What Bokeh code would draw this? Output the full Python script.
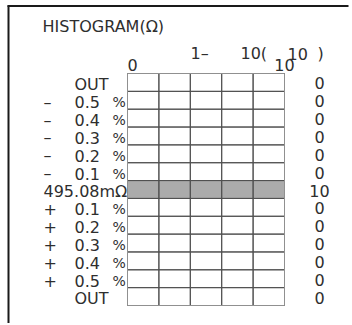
from bokeh.plotting import figure
from bokeh.models import Range1d
from bokeh.core.properties import value
from bokeh.embed import file_html
from bokeh.resources import INLINE

# ---- data ----
title = "HISTOGRAM(Ω)"
row_lead = ["", "–", "–", "–", "–", "–", "495.08mΩ", "+", "+", "+", "+", "+", ""]
row_value = ["OUT", "0.5", "0.4", "0.3", "0.2", "0.1", "", "0.1", "0.2", "0.3", "0.4", "0.5", "OUT"]
row_unit = ["", "%", "%", "%", "%", "%", "", "%", "%", "%", "%", "%", ""]
counts = [0, 0, 0, 0, 0, 0, 10, 0, 0, 0, 0, 0, 0]
col_edges = [0, 2, 4, 6, 8, 10]
scale_min_label = "0"
scale_max_label = "10"
header_parts = ["1–", "10(", "10", ")"]

# ---- layout (pixels inside the figure) ----
W, H = 350, 323
GX0, GX1 = 127, 284      # grid left/right
GY0, GY1 = 73, 305       # grid top/bottom
nrows = len(counts)
xmax = col_edges[-1]
sx = (GX1 - GX0) / xmax
sy = (GY1 - GY0) / nrows

def px(fx):
    return (fx - GX0) / sx

def py(fy):
    return (fy - GY0) / sy

p = figure(width=W, height=H, output_backend="svg", toolbar_location=None,
           x_range=Range1d(px(0), px(W)), y_range=Range1d(py(H), py(0)),
           min_border=0, min_border_left=0, min_border_right=0,
           min_border_top=0, min_border_bottom=0)
p.axis.visible = False
p.grid.visible = False
p.outline_line_color = None
p.background_fill_color = "white"
p.border_fill_color = "white"

FONT = value("DejaVu Sans")
FS = "16px"
TC = "#2e2e2e"

rows = list(range(nrows))

# frame lines (left and top)
p.segment(x0=[px(7), px(8)], y0=[py(5.5), py(5)], x1=[px(348), px(8)], y1=[py(5.5), py(H)],
          line_color="#1a1a1a", line_width=2)

# histogram bar
p.quad(left=[0] * nrows, right=counts, top=rows, bottom=[r + 1 for r in rows],
       fill_color="#ababab", line_color=None)

# grid cells
cl, cr, ct, cb = [], [], [], []
for r in rows:
    for i in range(len(col_edges) - 1):
        cl.append(col_edges[i]); cr.append(col_edges[i + 1])
        ct.append(r); cb.append(r + 1)
p.quad(left=cl, right=cr, top=ct, bottom=cb, fill_color=None,
       line_color="#505050", line_width=1)
# outer grid edge (lighter)
p.quad(left=[0], right=[xmax], top=[0], bottom=[nrows], fill_color=None,
       line_color="#909090", line_width=1)

ymid = [r + 0.5 + 2 / sy for r in rows]

p.text(x=[px(43)] * nrows, y=ymid, text=row_lead, text_font=FONT,
       text_font_size=FS, text_color=TC, text_baseline="middle", text_align="left")
p.text(x=[px(74)] * nrows, y=ymid, text=row_value, text_font=FONT,
       text_font_size=FS, text_color=TC, text_baseline="middle", text_align="left")
p.text(x=[px(112)] * nrows, y=ymid, text=row_unit, text_font=FONT,
       text_font_size="14px", text_color=TC, text_baseline="middle", text_align="left")

# counts on the right
p.text(x=[px(319)] * nrows, y=[r + 0.5 + 1 / sy for r in rows],
       text=[str(c) for c in counts], text_font=FONT, text_font_size=FS,
       text_color=TC, text_baseline="middle", text_align="center")

# title and scale header
p.text(x=[px(42)], y=[py(26)], text=[title], text_font=FONT, text_font_size=FS,
       text_color=TC, text_baseline="middle", text_align="left")
p.text(x=[0], y=[py(64)], text=[scale_min_label],
       text_font=FONT, text_font_size=FS, text_color=TC,
       text_baseline="middle", text_align="left")
p.text(x=[xmax], y=[py(64)], text=[scale_max_label],
       text_font=FONT, text_font_size=FS, text_color=TC,
       text_baseline="middle", text_align="center")
p.text(x=[px(190), px(240), px(287), px(317)], y=[py(53)] * 4, text=header_parts,
       text_font=FONT, text_font_size=FS, text_color=TC,
       text_baseline="middle", text_align="left")

open("out.html", "w").write(file_html(p, INLINE))
